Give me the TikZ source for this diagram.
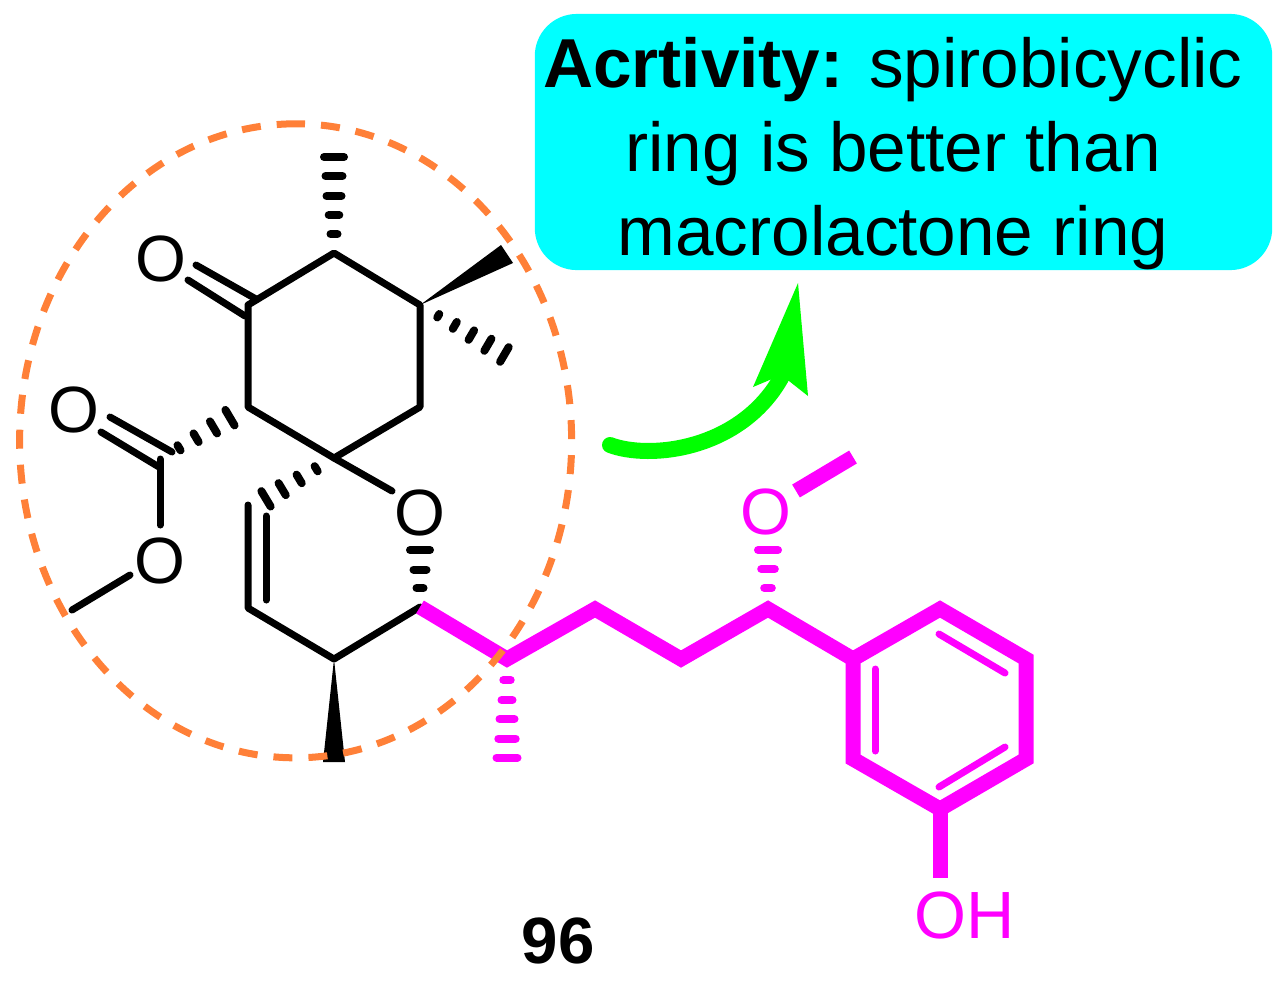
\documentclass[tikz,border=0pt]{standalone}
\usepackage{fontspec}
\setmainfont{Liberation Sans}
\usetikzlibrary{calc}
\definecolor{dashorange}{RGB}{255,128,56}
\definecolor{cyan}{RGB}{0,255,255}
\definecolor{magenta}{RGB}{255,0,255}
\definecolor{green}{RGB}{0,255,0}
\tikzset{
	bond/.style={line width=0.07cm,black,line cap=round,line join=round},
	hashbar/.style={line width=0.08cm,line cap=round},
	chain/.style={line width=0.15cm,magenta,line join=miter},
	atom/.style={font=\fontsize{18.6}{18.6}\selectfont,inner sep=0pt},
	actbox/.style={fill=cyan,rounded corners=0.42cm,minimum width=7.37cm,minimum height=2.56cm,inner sep=0pt},
	acttext/.style={font=\fontsize{19.7}{23.9}\selectfont,align=center,inner sep=0pt},
}
\begin{document}
\begin{tikzpicture}[x=0.01cm,y=-0.01cm]
	\useasboundingbox (0,0) rectangle (1286,984);

	%Atoms
	\coordinate (r1) at (334,253);
	\coordinate (r2) at (420,305);
	\coordinate (r3) at (420,407);
	\coordinate (spiro) at (334,458);
	\coordinate (r5) at (248,407);
	\coordinate (r6) at (248,305);
	\coordinate (ester) at (160,459);
	\coordinate (v1) at (248,505);
	\coordinate (v2) at (248,608);
	\coordinate (p3) at (334,659);
	\coordinate (p4) at (420,607);
	\coordinate (s1) at (507,659);
	\coordinate (s2) at (595,609);
	\coordinate (s3) at (681,659);
	\coordinate (s4) at (768,609);
	\coordinate (b1) at (853,659);
	\coordinate (b2) at (940,609);
	\coordinate (b3) at (1026,659);
	\coordinate (b4) at (1026,759);
	\coordinate (b5) at (940,809);
	\coordinate (b6) at (853,759);
	\node[atom] (oKeto) at (161,259) {O};
	\node[atom] (oAcyl) at (74,410) {O};
	\node[atom] (oEster) at (160,561) {O};
	\node[atom] (oRing) at (420,513) {O};
	\node[atom,magenta] (oMeth) at (766,512) {O};
	\node[atom,magenta,anchor=west,font=\fontsize{19}{19}\selectfont] (oh) at (914,915) {OH};

	%Label
	\node[actbox] (act) at (903.5,142) {};
	\node[acttext] (acttxt) at (893,153.5) {\textbf{Acrtivity:} spirobicyclic\\ring is better than\\macrolactone ring};
	\node[font=\fontsize{18.6}{18.6}\selectfont\bfseries,inner sep=0pt] (num) at (558,941) {96};

	%Black bonds
	\draw[bond] (r6) -- (r1) -- (r2) -- (r3) -- (spiro) -- (r5) -- (r6);
	\draw[bond] (196,265) -- (256,299);
	\draw[bond] (188,280) -- (245,316);
	\draw[bond] (110,417) -- (172,452);
	\draw[bond] (101,432) -- (159,467);
	\draw[bond] (ester) -- (160,525);
	\draw[bond] (130,575) -- (72,610);
	\draw[bond] (spiro) -- (392,491);
	\draw[bond] (v1) -- (v2) -- (p3) -- (p4);
	\draw[bond] (266,516) -- (266,600);

	%Wedges
	\fill[black] (r2) -- (501,245) -- (513,263) -- cycle;
	\fill[black] (p3) -- (323,762) -- (345,762) -- cycle;

	%Hashes
	\foreach \y/\w in {234/3.5,215/5.3,196/7.5,176/8.5,157/10}
		\draw[hashbar] ({334-\w},\y) -- ({334+\w},\y);
	\foreach \y/\w in {550/10,569.5/6.5,588/3.5}
		\draw[hashbar] ({420-\w},\y) -- ({420+\w},\y);
	\foreach \t/\w in {.21/.02,.40/.04,.59/.055,.78/.07,.97/.085}
		\draw[hashbar] ($(r2)!\t!(507,356)!\w cm!90:(507,356)$) -- ($(r2)!\t!(507,356)!\w cm!-90:(507,356)$);
	\foreach \t/\w in {.205/.09,.392/.07,.59/.05,.784/.03}
		\draw[hashbar] ($(r5)!\t!(ester)!\w cm!90:(ester)$) -- ($(r5)!\t!(ester)!\w cm!-90:(ester)$);
	\foreach \t/\w in {.21/.03,.41/.05,.61/.07,.80/.09}
		\draw[hashbar] ($(spiro)!\t!(249,509)!\w cm!90:(249,509)$) -- ($(spiro)!\t!(249,509)!\w cm!-90:(249,509)$);

	%Magenta part
	\draw[chain] (p4) -- (s1) -- (s2) -- (s3) -- (s4) -- (b1);
	\draw[chain] (b1) -- (b2) -- (b3) -- (b4) -- (b5) -- (b6) -- cycle;
	\draw[chain] (b5) -- (940,878);
	\draw[chain] (796,491) -- (853,457);
	\draw[bond,magenta] (875,669) -- (875,751);
	\draw[bond,magenta] (939,634) -- (1005,673);
	\draw[bond,magenta] (1005,747) -- (939,787);
	\foreach \y/\w in {550/10,569/6.8,588/3.8}
		\draw[hashbar,magenta] ({768-\w},\y) -- ({768+\w},\y);
	\foreach \y/\w in {680/3.7,700/5.5,719/7.5,738.5/8.7,757.5/10.5}
		\draw[hashbar,magenta] ({507-\w},\y) -- ({507+\w},\y);

	%Ring mark
	\draw[dashorange,line width=0.07cm,dash pattern=on 0.19cm off 0.16cm] (286,124) arc [start angle=-92,end angle=268,x radius=276,y radius=317];

	%Arrow
	\coordinate (arrS) at (610,445);
	\coordinate (arrE) at (781,378);
	\draw[green,line width=0.16cm,line cap=round] (arrS) .. controls (650,460) and (740,450) .. (arrE);
	\fill[green] (798,283) -- (808,396) -- (789,381) -- (772,379) -- (753,387) -- cycle;
\end{tikzpicture}
\end{document}
